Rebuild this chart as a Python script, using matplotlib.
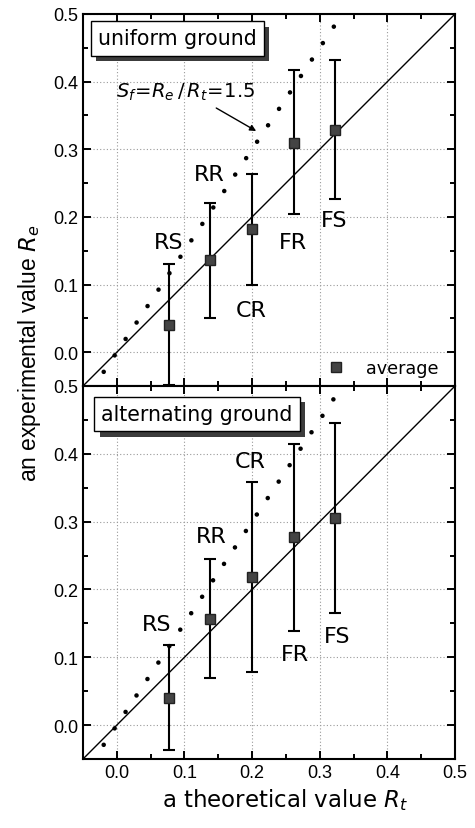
import matplotlib
matplotlib.use("Agg")
import matplotlib.pyplot as plt
from matplotlib.ticker import MultipleLocator
import matplotlib.patheffects as pe

# Theoretical values R_t for each section type
categories = ["RS", "RR", "CR", "FR", "FS"]
rt = [0.077, 0.138, 0.200, 0.262, 0.323]

# Uniform ground: experimental R_e (average, upper, lower)
uni_mean = [0.040, 0.136, 0.182, 0.310, 0.328]
uni_upper = [0.130, 0.221, 0.263, 0.417, 0.432]
uni_lower = [-0.048, 0.050, 0.100, 0.204, 0.226]

# Alternating ground
alt_mean = [0.040, 0.156, 0.218, 0.277, 0.305]
alt_upper = [0.118, 0.245, 0.359, 0.414, 0.445]
alt_lower = [-0.037, 0.069, 0.079, 0.139, 0.166]

safety_factor = 1.5

# Category label placements (x, y) per panel
uni_label_pos = [(0.077, 0.163), (0.136, 0.263), (0.199, 0.062), (0.261, 0.163), (0.322, 0.195)]
alt_label_pos = [(0.059, 0.149), (0.139, 0.279), (0.197, 0.389), (0.264, 0.105), (0.326, 0.131)]

plt.rcParams["font.family"] = ["DejaVu Sans"]
plt.rcParams["mathtext.fontset"] = "dejavusans"

fig = plt.figure(figsize=(4.75, 8.29), dpi=100)
ax_top = fig.add_axes([83 / 475, 1 - 387 / 829, 372 / 475, 372 / 829])
ax_bot = fig.add_axes([83 / 475, 1 - 760 / 829, 372 / 475, 373 / 829])

tick_font = dict(family="Liberation Sans", size=13)


def draw_panel(ax, mean, upper, lower, label_pos, title, title_xy):
    lo, hi = -0.05, 0.5
    ax.set_xlim(lo, hi)
    ax.set_ylim(lo, hi)
    ax.xaxis.set_major_locator(MultipleLocator(0.1))
    ax.yaxis.set_major_locator(MultipleLocator(0.1))
    ax.xaxis.set_minor_locator(MultipleLocator(0.05))
    ax.yaxis.set_minor_locator(MultipleLocator(0.05))
    ax.grid(True, which="major", linestyle=(0, (1, 2)), color="#9a9a9a", linewidth=0.8)
    ax.set_axisbelow(True)
    ax.tick_params(which="both", direction="in", top=True, right=True, width=1.4, colors="black")
    ax.tick_params(which="major", length=6)
    ax.tick_params(which="minor", length=3.5)
    for s in ax.spines.values():
        s.set_linewidth(1.5)
    for lab in ax.get_yticklabels() + ax.get_xticklabels():
        lab.set_fontfamily(tick_font["family"])
        lab.set_fontsize(tick_font["size"])

    # 1:1 line and safety-factor line
    ax.plot([lo, hi], [lo, hi], color="black", linewidth=1.0, zorder=2)
    x0 = lo / safety_factor
    ax.plot([x0, hi], [safety_factor * x0, safety_factor * hi], color="black",
            linewidth=3.3, linestyle=(0.6, (0.01, 4.3)), dash_capstyle="round",
            zorder=2)

    err_lo = [m - l for m, l in zip(mean, lower)]
    err_hi = [u - m for m, u in zip(mean, upper)]
    ax.errorbar(rt, mean, yerr=[err_lo, err_hi], fmt="none", ecolor="black",
                elinewidth=1.5, capsize=4, capthick=1.5, zorder=3, clip_on=False)
    ax.plot(rt, mean, "s", color="#444444", markeredgecolor="#222222",
            markersize=6.5, linestyle="none", zorder=4, label="average")

    for name, (tx, ty) in zip(categories, label_pos):
        ax.text(tx, ty, name, fontsize=16, ha="center", va="center", zorder=5)

    # Title box with drop shadow
    t = ax.text(title_xy[0], title_xy[1], title, fontsize=14.8, ha="left", va="center",
                color="black", zorder=7,
                bbox=dict(boxstyle="square,pad=0.35", facecolor="white", edgecolor="black",
                          linewidth=1.0))
    t.get_bbox_patch().set_path_effects([
        pe.SimplePatchShadow(offset=(4, -4), shadow_rgbFace="#3c3c3c", alpha=1.0),
        pe.Normal(),
    ])


draw_panel(ax_top, uni_mean, uni_upper, uni_lower, uni_label_pos,
           "uniform ground", (-0.028, 0.464))
draw_panel(ax_bot, alt_mean, alt_upper, alt_lower, alt_label_pos,
           "alternating ground", (-0.023, 0.459))

ax_top.tick_params(labelbottom=False)

# Safety-factor annotation
ax_top.annotate("", xy=(0.206, 0.327), xytext=(0.147, 0.361),
                arrowprops=dict(arrowstyle="-|>", color="black", lw=1.0,
                                mutation_scale=9, shrinkA=0, shrinkB=0), zorder=6)
ax_top.text(0.102, 0.386, r"$S_f\!=\!R_e\,/\,R_t\!=\!1.5$", fontsize=14,
            ha="center", va="center", zorder=6)

ax_top.legend(loc="lower right", bbox_to_anchor=(0.99, -0.01), frameon=False,
              fontsize=12.7, handletextpad=1.2, handlelength=1.0, borderaxespad=0.3)

fig.text(30 / 475, 1 - 353 / 829, r"an experimental value $R_e$", rotation=90,
         ha="center", va="center", fontsize=16.5, family="Liberation Sans")
fig.text(285 / 475, 1 - 800 / 829, r"a theoretical value $R_t$",
         ha="center", va="center", fontsize=16.5)

fig.savefig("out.png", dpi=100)
